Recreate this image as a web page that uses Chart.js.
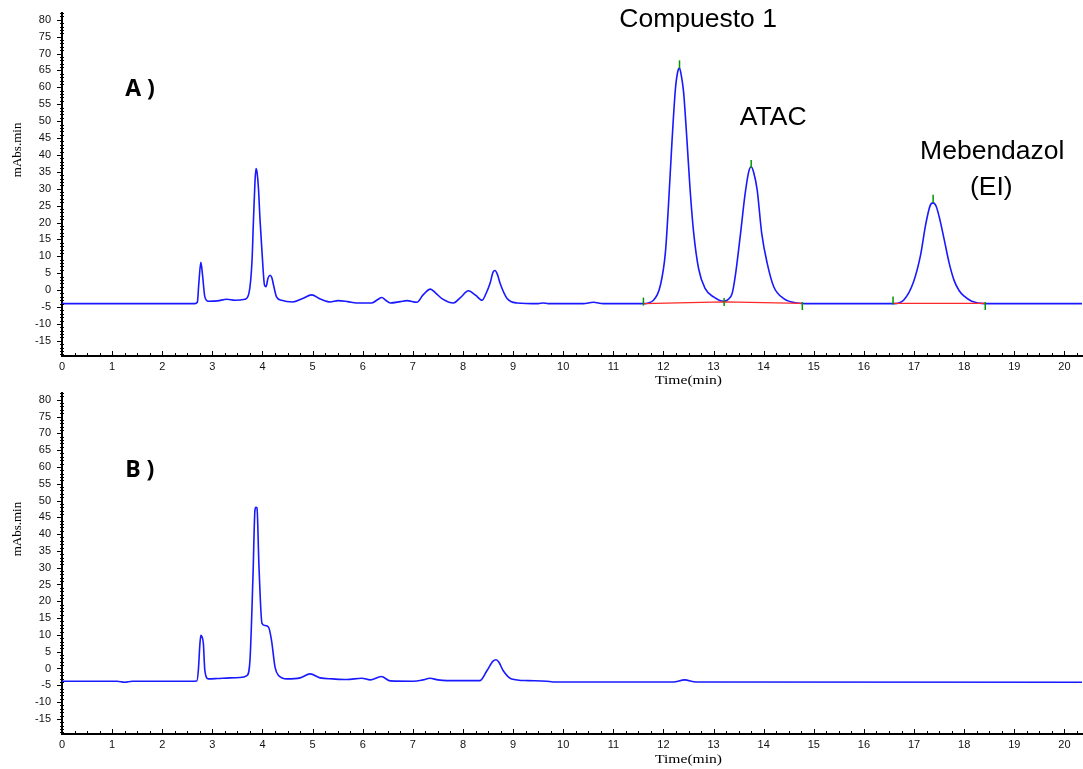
<!DOCTYPE html>
<html>
<head>
<meta charset="utf-8">
<title>Cromatogramas</title>
<script src="https://cdn.jsdelivr.net/npm/chart.js@4/dist/chart.umd.min.js"></script>
<style>
  html, body { margin: 0; padding: 0; background: #fff; }
  body { width: 1083px; height: 769px; position: relative; overflow: hidden; }
  .panel { position: absolute; left: 0; width: 1083px; }
  #wrapA { top: 0; height: 392px; z-index: 2; }
  #wrapB { top: 384px; height: 385px; z-index: 1; }
</style>
</head>
<body>
<div class="panel" id="wrapA"><canvas id="chartA"></canvas></div>
<div class="panel" id="wrapB"><canvas id="chartB"></canvas></div>
<script>
// ---- Panel A: sample with compound 1, ATAC and internal standard ----
const timeA = [0, 2.0, 2.65, 2.70, 2.73, 2.77, 2.80, 2.85, 2.92, 3.10, 3.29, 3.45, 3.65, 3.73, 3.79, 3.82, 3.85, 3.87, 3.89, 3.92, 3.95, 3.99, 4.04, 4.07, 4.11, 4.15, 4.19, 4.22, 4.28, 4.38, 4.60, 4.80, 4.98, 5.15, 5.35, 5.51, 5.70, 5.88, 6.18, 6.30, 6.38, 6.46, 6.55, 6.75, 6.88, 7.08, 7.20, 7.35, 7.45, 7.58, 7.81, 7.95, 8.11, 8.25, 8.38, 8.46, 8.54, 8.60, 8.64, 8.69, 8.74, 8.88, 9.08, 9.50, 9.60, 9.70, 10.40, 10.60, 10.80, 11.60, 11.80, 11.94, 12.04, 12.10, 12.17, 12.24, 12.29, 12.32, 12.35, 12.40, 12.47, 12.53, 12.60, 12.70, 12.83, 13.00, 13.20, 13.28, 13.37, 13.43, 13.53, 13.63, 13.70, 13.75, 13.80, 13.87, 13.96, 14.07, 14.20, 14.40, 14.66, 14.90, 16.60, 16.79, 16.99, 17.13, 17.23, 17.32, 17.38, 17.44, 17.52, 17.60, 17.70, 17.80, 17.90, 18.00, 18.15, 18.40, 20.35];
const signalA = [-4.0, -4.0, -4.0, -3.6, 2.0, 8.2, 5.0, -2.0, -3.3, -3.2, -2.7, -3.0, -2.7, -0.9, 8.4, 20.7, 32.0, 36.0, 35.0, 30.0, 21.0, 11.4, 1.5, 1.0, 3.5, 4.4, 3.5, 1.5, -2.0, -3.0, -3.5, -2.5, -1.4, -2.6, -3.5, -3.1, -3.4, -3.8, -3.8, -2.8, -2.2, -3.0, -3.8, -3.4, -3.1, -3.6, -1.5, 0.3, -0.8, -2.5, -3.8, -2.2, -0.2, -1.5, -3.0, -1.0, 2.0, 5.3, 5.8, 4.5, 2.0, -2.5, -3.8, -4.0, -3.8, -4.0, -4.0, -3.6, -4.0, -4.0, -3.0, 1.5, 11.4, 25.2, 44.0, 59.8, 65.0, 65.7, 64.0, 58.8, 44.0, 30.0, 17.3, 6.4, 0.5, -2.0, -3.3, -2.9, -1.0, 3.9, 15.8, 28.6, 35.0, 36.5, 34.8, 29.6, 16.8, 7.9, 1.0, -2.5, -3.8, -4.0, -4.0, -3.0, 2.5, 10.4, 19.3, 25.0, 25.8, 24.8, 20.5, 15.0, 8.0, 2.8, -0.2, -1.8, -3.3, -4.0, -4.0];

// integration baselines (drawn in red), one segment per peak group
const baseTimeA = [11.60, 13.21, 14.76, null, 16.58, 18.42];
const baseValueA = [-4.0, -3.5, -3.9, null, -3.9, -3.9];

// integration event marks (start, apex, end)
const markTimeA = [11.60, 12.32, 13.21, 13.75, 14.77, 16.58, 17.38, 18.42];
const markValueA = [-3.4, 66.8, -3.5, 37.3, -4.7, -3.1, 27.0, -4.7];

// ---- Panel B: blank ----
const timeB = [0, 1.10, 1.25, 1.40, 2.00, 2.55, 2.69, 2.72, 2.75, 2.77, 2.79, 2.82, 2.85, 2.92, 3.10, 3.35, 3.55, 3.69, 3.75, 3.81, 3.85, 3.87, 3.89, 3.93, 3.99, 4.05, 4.12, 4.18, 4.25, 4.32, 4.49, 4.75, 4.95, 5.15, 5.40, 5.68, 5.98, 6.15, 6.37, 6.55, 7.01, 7.20, 7.34, 7.50, 7.68, 8.34, 8.48, 8.60, 8.66, 8.72, 8.80, 8.97, 9.30, 9.67, 9.80, 12.20, 12.42, 12.65, 20.35];
const signalB = [-3.8, -3.8, -4.1, -3.8, -3.8, -3.8, -3.7, -0.6, 7.0, 9.9, 9.5, 7.5, -0.6, -3.1, -3.0, -2.8, -2.7, -2.1, 2.4, 27.3, 47.2, 48.0, 47.8, 30.3, 13.4, 12.8, 12.3, 8.4, 0.4, -2.1, -3.1, -2.8, -1.6, -2.8, -3.1, -3.3, -2.9, -3.4, -2.4, -3.7, -3.8, -3.4, -2.9, -3.4, -3.6, -3.6, -0.6, 2.2, 2.6, 1.8, -0.6, -3.1, -3.6, -3.8, -4.0, -4.0, -3.4, -4.0, -4.1];

// axis ranges and tick steps
const timeRange = [0, 20.35];
const signalRange = [-19.5, 82];
const timeStep = 1;
const signalStep = 5;

// text placed on each panel (in data units)
const notesA = [
  { text: 'A )', x: 1.26, y: 59.5, font: 'bold 23px "Open Sans", "Liberation Sans", sans-serif', align: 'left' },
  { text: 'Compuesto 1', x: 12.69, y: 80.0, font: '26.5px "Liberation Sans", Arial, sans-serif', align: 'center' },
  { text: 'ATAC', x: 14.19, y: 51.0, font: '26.5px "Liberation Sans", Arial, sans-serif', align: 'center' },
  { text: 'Mebendazol', x: 18.56, y: 40.9, font: '26.5px "Liberation Sans", Arial, sans-serif', align: 'center' },
  { text: '(EI)', x: 18.54, y: 30.4, font: '26.5px "Liberation Sans", Arial, sans-serif', align: 'center' }
];
const notesB = [
  { text: 'B )', x: 1.26, y: 59.0, font: 'bold 23px "Open Sans", "Liberation Sans", sans-serif', align: 'left' }
];

const toPoints = (xs, ys) => xs.map((x, i) => ({ x: x, y: ys[i] === null ? null : ys[i] }));

// Draws inward/outward tick marks, axis titles and panel notes
const chromDecor = {
  id: 'chromDecor',
  afterDraw(chart, args, opts) {
    const { ctx, chartArea: a, scales } = chart;
    const xs = scales.x, ys = scales.y;
    ctx.save();
    ctx.strokeStyle = '#000';
    ctx.lineWidth = 1;
    ctx.beginPath();
    const nq = Math.floor(xs.max * 4 + 1e-6);
    for (let i = 0; i <= nq; i++) {
      const px = Math.round(xs.getPixelForValue(i / 4)) + 0.5;
      const len = (i % 4 === 0) ? 5 : 3;
      ctx.moveTo(px, a.bottom);
      ctx.lineTo(px, a.bottom - len);
    }
    for (let v = Math.ceil(ys.min); v <= Math.floor(ys.max); v++) {
      const py = Math.round(ys.getPixelForValue(v)) + 0.5;
      if (v % 5 === 0) {
        ctx.moveTo(a.left - 5, py);
        ctx.lineTo(a.left, py);
      } else {
        ctx.moveTo(a.left - 2, py);
        ctx.lineTo(a.left + 2, py);
      }
    }
    ctx.stroke();

    ctx.fillStyle = '#000';
    // x title
    ctx.save();
    ctx.font = '13px "Liberation Serif", "Times New Roman", serif';
    ctx.textAlign = 'center';
    ctx.textBaseline = 'middle';
    ctx.translate(xs.getPixelForValue(opts.xTitleAt), a.bottom + opts.xTitleGap);
    ctx.scale(1.2, 1);
    ctx.fillText('Time(min)', 0, 0);
    ctx.restore();
    // y title
    ctx.save();
    ctx.font = '13px "Liberation Serif", "Times New Roman", serif';
    ctx.textAlign = 'center';
    ctx.textBaseline = 'middle';
    ctx.translate(18, ys.getPixelForValue(opts.yTitleAt));
    ctx.rotate(-Math.PI / 2);
    ctx.fillText('mAbs.min', 0, 0);
    ctx.restore();
    // notes
    (opts.notes || []).forEach(n => {
      ctx.font = n.font;
      ctx.textAlign = n.align;
      ctx.textBaseline = 'middle';
      ctx.fillText(n.text, xs.getPixelForValue(n.x), ys.getPixelForValue(n.y));
    });
    ctx.restore();
  }
};

function makeChart(canvasId, datasets, padTop, xAxisHeight, notes, xTitleGap) {
  return new Chart(document.getElementById(canvasId), {
    type: 'line',
    data: { datasets: datasets },
    plugins: [chromDecor],
    options: {
      responsive: true,
      maintainAspectRatio: false,
      devicePixelRatio: 1,
      animation: false,
      events: [],
      layout: { autoPadding: false, padding: { top: padTop, right: 1, left: 0, bottom: 0 } },
      plugins: {
        legend: { display: false },
        tooltip: { enabled: false },
        chromDecor: { notes: notes, xTitleAt: 12.5, yTitleAt: 41.5, xTitleGap: xTitleGap }
      },
      scales: {
        x: {
          type: 'linear',
          min: timeRange[0],
          max: timeRange[1],
          afterFit: s => { s.height = xAxisHeight; s.paddingLeft = 0; s.paddingRight = 0; },
          grid: { display: false, drawTicks: false },
          border: { display: true, color: '#000', width: 2 },
          ticks: {
            stepSize: timeStep,
            includeBounds: false,
            autoSkip: false,
            maxRotation: 0,
            padding: 4,
            color: '#111',
            font: { family: '"Liberation Sans", Arial, sans-serif', size: 11 },
            callback: v => Number.isInteger(v) ? String(v) : ''
          }
        },
        y: {
          type: 'linear',
          min: signalRange[0],
          max: signalRange[1],
          afterFit: s => { s.width = 62; s.paddingTop = 0; s.paddingBottom = 0; },
          grid: { display: false, drawTicks: false },
          border: { display: true, color: '#000', width: 2 },
          ticks: {
            stepSize: signalStep,
            includeBounds: false,
            padding: 11,
            color: '#111',
            font: { family: '"Liberation Sans", Arial, sans-serif', size: 11 },
            callback: v => Number.isInteger(v) ? String(v) : ''
          }
        }
      }
    }
  });
}

const traceStyle = {
  borderColor: 'rgb(25,25,255)',
  borderWidth: 1.6,
  pointRadius: 0,
  cubicInterpolationMode: 'monotone',
  fill: false
};

makeChart('chartA', [
  Object.assign({ label: 'A', data: toPoints(timeA, signalA), order: 2 }, traceStyle),
  {
    label: 'Línea base', data: toPoints(baseTimeA, baseValueA), order: 1,
    borderColor: 'rgb(255,40,40)', borderWidth: 1.2, pointRadius: 0, spanGaps: false, tension: 0
  },
  {
    type: 'scatter', label: 'Marcas', data: toPoints(markTimeA, markValueA), order: 0,
    pointStyle: 'line', rotation: 90, radius: 4, borderColor: 'rgb(0,150,0)', borderWidth: 1.5,
    backgroundColor: 'rgb(0,150,0)'
  }
], 13, 36, notesA, 25);

makeChart('chartB', [
  Object.assign({ label: 'B', data: toPoints(timeB, signalB) }, traceStyle)
], 9, 35, notesB, 26);
</script>
</body>
</html>
